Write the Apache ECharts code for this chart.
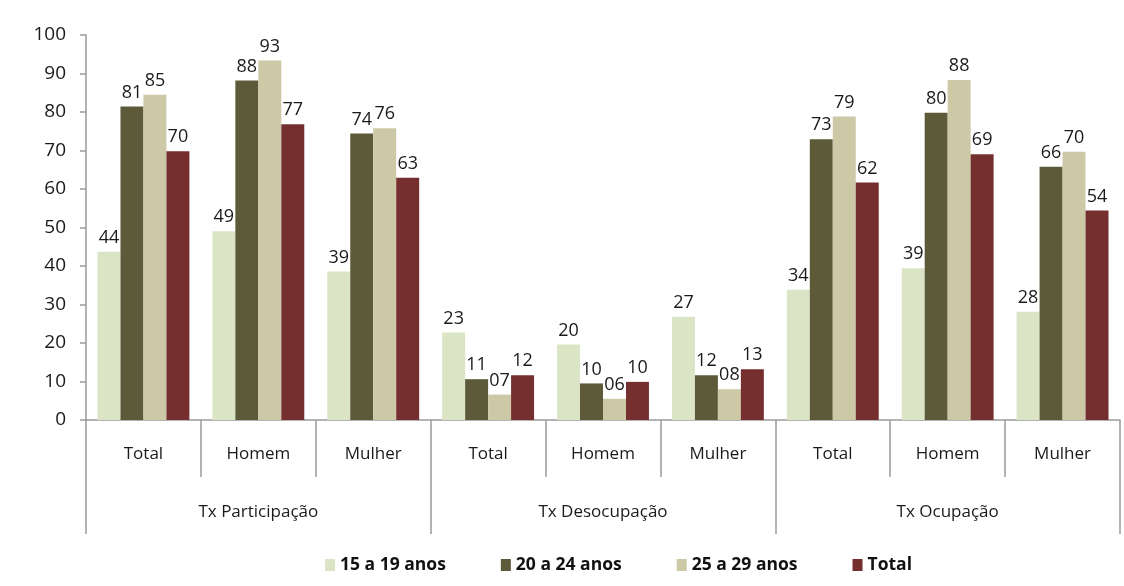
<!DOCTYPE html>
<html>
<head>
<meta charset="utf-8">
<script src="https://cdn.jsdelivr.net/npm/echarts@6/dist/echarts.min.js"></script>
<style>
html,body{margin:0;padding:0;background:#fff;}
#main{width:1124px;height:586px;}
</style>
</head>
<body>
<div id="main"></div>
<script>
const categories = ['Total','Homem','Mulher','Total','Homem','Mulher','Total','Homem','Mulher'];
const groups = ['Tx Participação','Tx Desocupação','Tx Ocupação'];
const seriesNames = ['15 a 19 anos','20 a 24 anos','25 a 29 anos','Total'];
const age15to19 = [43.7, 49.0, 38.6, 22.7, 19.6, 26.8, 33.8, 39.4, 28.1];
const age20to24 = [81.4, 88.2, 74.4, 10.6, 9.5, 11.6, 72.9, 79.8, 65.8];
const age25to29 = [84.5, 93.4, 75.8, 6.6, 5.5, 8.0, 78.8, 88.3, 69.7];
const totalAll  = [69.8, 76.8, 62.9, 11.6, 9.9, 13.2, 61.7, 69.0, 54.4];
const yTicks = [0,10,20,30,40,50,60,70,80,90,100];

const colors = ['#dbe5c6','#5d5a39','#cdc8a6','#752f2f'];
const FONT = 'Open Sans';
const allData = [age15to19, age20to24, age25to29, totalAll];

const chart = echarts.init(document.getElementById('main'));
chart.setOption({
  animation: false,
  textStyle: {fontFamily: FONT},
  grid: {left: 86, right: 4, top: 35, bottom: 166, containLabel: false},
  legend: {
    bottom: 7,
    left: 320,
    itemWidth: 10,
    itemHeight: 12,
    itemGap: 55,
    icon: 'rect',
    textStyle: {fontFamily: FONT, fontSize: 17.5, fontWeight: 'bold', color: '#111'},
    data: seriesNames
  },
  xAxis: [
    {
      type: 'category',
      data: categories,
      position: 'bottom',
      axisLine: {show: true, lineStyle: {color: '#9a9a9a', width: 1.5}},
      axisTick: {show: true, alignWithLabel: false, interval: 0, length: 57, lineStyle: {color: '#9a9a9a', width: 1.5}},
      axisLabel: {interval: 0, margin: 26, fontFamily: FONT, fontSize: 17, color: '#1a1a1a'},
      splitLine: {show: false}
    },
    {
      type: 'category',
      data: groups,
      position: 'bottom',
      axisLine: {show: false},
      axisTick: {show: true, interval: 0, length: 114, lineStyle: {color: '#9a9a9a', width: 1.5}},
      axisLabel: {interval: 0, margin: 84, fontFamily: FONT, fontSize: 17, color: '#1a1a1a'},
      splitLine: {show: false}
    }
  ],
  yAxis: {
    type: 'value',
    min: 0, max: 100, interval: 10,
    axisLine: {show: true, lineStyle: {color: '#9a9a9a', width: 1.5}},
    axisTick: {show: true, length: 6, lineStyle: {color: '#9a9a9a', width: 1.5}},
    axisLabel: {margin: 20, fontFamily: FONT, fontSize: 19, color: '#1a1a1a',
      formatter: v => yTicks.includes(v) ? String(v) : ''},
    splitLine: {show: false}
  },
  series: seriesNames.map((name, i) => ({
    name: name,
    type: 'bar',
    xAxisIndex: 0,
    data: allData[i],
    barGap: '0%',
    barCategoryGap: '20%',
    itemStyle: {color: colors[i]},
    label: {
      show: true,
      position: 'top',
      distance: 5,
      fontFamily: FONT,
      fontSize: 18,
      color: '#1a1a1a',
      formatter: p => String(Math.round(p.value)).padStart(2, '0')
    }
  }))
});
</script>
</body>
</html>
